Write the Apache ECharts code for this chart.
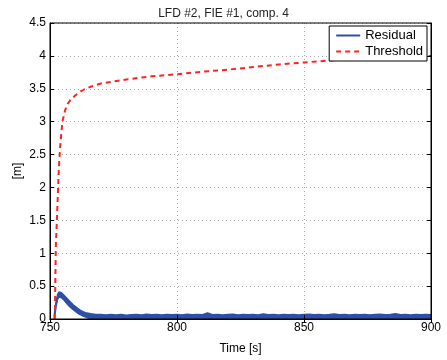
<!DOCTYPE html>
<html><head><meta charset="utf-8">
<script src="https://cdn.jsdelivr.net/npm/echarts@6/dist/echarts.min.js"></script>
<style>html,body{margin:0;padding:0;background:#fff}#c{width:447px;height:360px}</style>
</head><body><div id="c"></div>
<script>
var titleText = 'LFD #2, FIE #1, comp. 4';
var xName = 'Time [s]';
var yName = '[m]';
var seriesNames = ['Residual', 'Threshold'];

// upper edge of the noisy residual trace
var residualTime = [751.6, 752, 752.5, 753, 753.5, 754, 754.5, 755, 755.5, 756, 757, 758, 759, 760, 761, 762, 763, 764,
  766, 768, 770, 772, 774, 776, 778, 780, 782, 784, 786, 788, 790, 792, 794, 796, 798, 800,
  802, 804, 806, 808, 810, 812, 814, 816, 818, 820, 822, 824, 826, 828, 830, 832, 834, 836, 838, 840,
  842, 844, 846, 848, 850, 852, 854, 856, 858, 860, 862, 864, 866, 868, 870, 872, 874, 876, 878, 880,
  882, 884, 886, 888, 890, 892, 894, 896, 898, 900];
var residualUpper = [0.02, 0.16, 0.29, 0.37, 0.41, 0.42, 0.40, 0.38, 0.36, 0.34, 0.30, 0.26, 0.22, 0.19, 0.16, 0.13, 0.11, 0.095,
  0.08, 0.068, 0.07, 0.06, 0.068, 0.062, 0.07, 0.058, 0.066, 0.07, 0.06, 0.072, 0.064, 0.068, 0.06, 0.07, 0.063, 0.068,
  0.06, 0.072, 0.064, 0.07, 0.066, 0.09, 0.065, 0.07, 0.06, 0.068, 0.072, 0.062, 0.07, 0.064, 0.068, 0.06, 0.078, 0.066, 0.07, 0.062,
  0.068, 0.064, 0.07, 0.06, 0.068, 0.072, 0.064, 0.07, 0.062, 0.068, 0.076, 0.066, 0.07, 0.06, 0.068, 0.064, 0.07, 0.062, 0.068, 0.072,
  0.064, 0.07, 0.08, 0.066, 0.07, 0.062, 0.068, 0.064, 0.07, 0.066];
// lower edge of the trace during the initial transient
var residualLowTime = [751.6, 752, 752.5, 753, 753.5, 754, 754.5, 755, 755.5, 756, 757, 758, 759, 760, 761, 762, 763, 764, 765, 766];
var residualLower = [0.0, 0.06, 0.19, 0.29, 0.33, 0.34, 0.32, 0.30, 0.28, 0.26, 0.21, 0.17, 0.14, 0.11, 0.08, 0.06, 0.04, 0.025, 0.01, 0.0];

var thresholdTime = [751.9, 752.1, 752.3, 752.7, 753.1, 753.5, 754, 754.5, 755, 756, 757, 758, 760, 762, 764, 766, 770, 775, 780, 790, 800, 810, 820, 830, 840, 850, 860, 870, 880, 890, 900];
var thresholdValue = [0.0, 0.6, 1.1, 1.5, 1.9, 2.3, 2.62, 2.85, 3.02, 3.18, 3.27, 3.33, 3.40, 3.46, 3.5, 3.53, 3.58, 3.61, 3.64, 3.69, 3.72, 3.76, 3.79, 3.83, 3.87, 3.9, 3.93, 3.95, 3.96, 3.98, 4.0];

var xTicks = {min: 750, max: 900, interval: 50};
var yTicks = {min: 0, max: 4.5, interval: 0.5};

function zip(a, b) { return a.map(function (v, i) { return [v, b[i]]; }); }

var blue = '#2d4fa6';
var red = '#ff2222';
var font = 'Liberation Sans, Arial, sans-serif';

var chart = echarts.init(document.getElementById('c'));
chart.setOption({
  animation: false,
  backgroundColor: '#fff',
  title: {text: titleText, left: 'center', top: 3, textStyle: {fontFamily: font, fontSize: 12, fontWeight: 'normal', color: '#222'}},
  grid: {left: 50, right: 16, top: 23, bottom: 37, show: true, borderColor: '#000', borderWidth: 1, z: 10},
  legend: {
    data: [{name: seriesNames[0]}, {name: seriesNames[1]}],
    orient: 'vertical', right: 20, top: 26, padding: [3, 4, 3, 6], z: 20,
    backgroundColor: '#fff', borderColor: '#000', borderWidth: 1,
    itemWidth: 24, itemHeight: 10, itemGap: 3,
    itemStyle: {opacity: 0},
    textStyle: {fontFamily: font, fontSize: 13, color: '#000'}
  },
  xAxis: [{
    type: 'value', min: xTicks.min, max: xTicks.max, interval: xTicks.interval, z: 5,
    name: xName, nameLocation: 'middle', nameGap: 24,
    nameTextStyle: {fontFamily: font, fontSize: 12, color: '#000'},
    axisLine: {lineStyle: {color: '#000'}},
    axisTick: {inside: true, length: 4, lineStyle: {color: '#000'}},
    axisLabel: {fontFamily: font, fontSize: 12, color: '#000', margin: 3},
    splitLine: {show: true, lineStyle: {color: '#aaa', type: [1, 3]}}
  }, {
    type: 'value', position: 'top', min: xTicks.min, max: xTicks.max, interval: xTicks.interval, z: 5,
    axisLine: {show: true, lineStyle: {color: '#000'}},
    axisTick: {inside: true, length: 4, lineStyle: {color: '#000'}},
    axisLabel: {show: false}, splitLine: {show: false}
  }],
  yAxis: [{
    type: 'value', min: yTicks.min, max: yTicks.max, interval: yTicks.interval, z: 5,
    name: yName, nameLocation: 'middle', nameGap: 26, nameMoveOverlap: false,
    nameTextStyle: {fontFamily: font, fontSize: 12, color: '#000'},
    axisLine: {show: true, lineStyle: {color: '#000'}},
    axisTick: {show: true, inside: true, length: 4, lineStyle: {color: '#000'}},
    axisLabel: {fontFamily: font, fontSize: 12, color: '#000', margin: 4},
    splitLine: {show: true, lineStyle: {color: '#aaa', type: [1, 3]}}
  }, {
    type: 'value', position: 'right', min: yTicks.min, max: yTicks.max, interval: yTicks.interval, z: 5,
    axisLine: {show: true, lineStyle: {color: '#000'}},
    axisTick: {show: true, inside: true, length: 4, lineStyle: {color: '#000'}},
    axisLabel: {show: false}, splitLine: {show: false}
  }],
  series: [{
    name: seriesNames[0], type: 'line', symbol: 'none', showSymbol: false, z: 2,
    data: zip(residualTime, residualUpper),
    lineStyle: {color: blue, width: 1.5}, itemStyle: {color: blue},
    areaStyle: {color: blue, opacity: 1}
  }, {
    name: 'residualLowerEdge', type: 'line', symbol: 'none', showSymbol: false, z: 3,
    data: zip(residualLowTime, residualLower),
    lineStyle: {color: blue, width: 1}, itemStyle: {color: blue},
    areaStyle: {color: '#fff', opacity: 1}
  }, {
    name: seriesNames[1], type: 'line', symbol: 'none', showSymbol: false, z: 4,
    data: zip(thresholdTime, thresholdValue),
    lineStyle: {color: red, width: 2, type: [5, 4]}, itemStyle: {color: red}
  }]
});
</script></body></html>
